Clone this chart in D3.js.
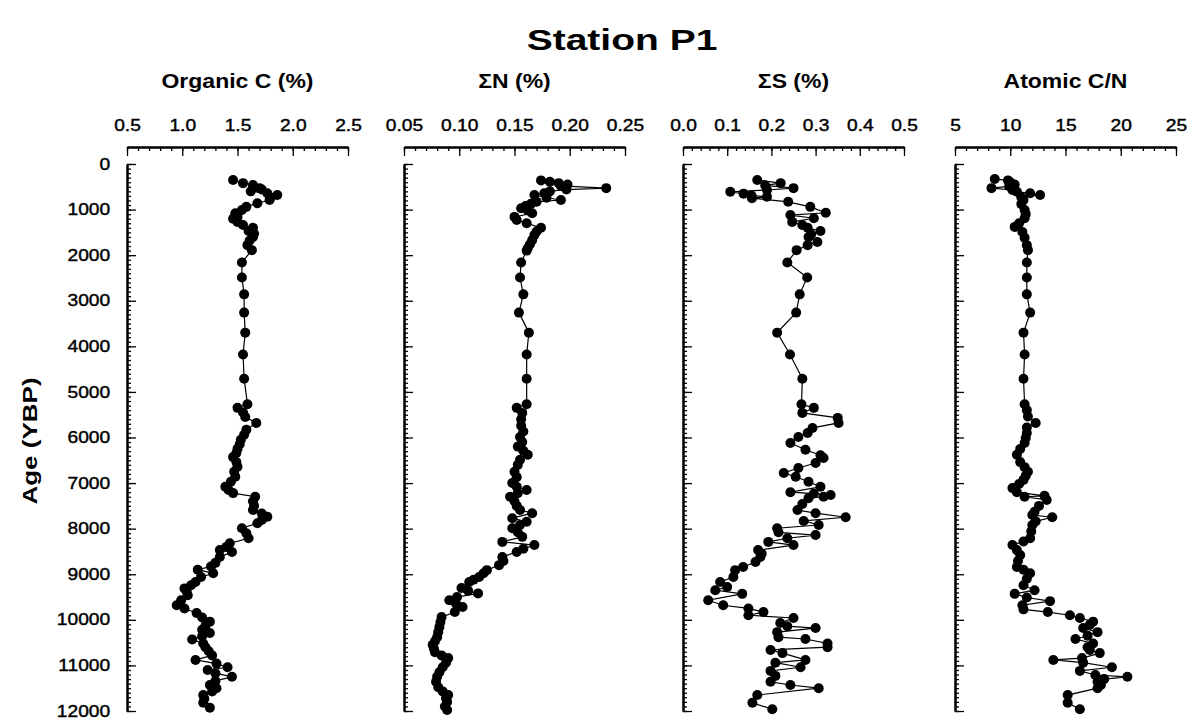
<!DOCTYPE html>
<html>
<head>
<meta charset="utf-8">
<script src="https://cdn.jsdelivr.net/npm/d3@7"></script>
<style>
	body { margin: 0; background: #fff; }
	svg text { font-family: "Liberation Sans", Arial, sans-serif; fill: #000; }
</style>
</head>
<body>
<svg id="chart" width="1190" height="719"></svg>
<script>
//=================== DATA ==================================================
var chartTitle = "Station P1";
var yTitle = "Age (YBP)";
var panelTitles = ["Organic C (%)", "\u03A3N (%)", "\u03A3S (%)", "Atomic C/N"];
var ageTicks = [0, 1000, 2000, 3000, 4000, 5000, 6000, 7000, 8000, 9000, 10000, 11000, 12000];
var orgCTicks = [0.5, 1.0, 1.5, 2.0, 2.5];
var sumNTicks = [0.05, 0.10, 0.15, 0.20, 0.25];
var sumSTicks = [0.0, 0.1, 0.2, 0.3, 0.4, 0.5];
var cnTicks = [5, 10, 15, 20, 25];

// Organic C (%)
var orgCAge = [350, 420, 460, 530, 560, 600, 640, 680, 740, 790, 860, 940, 1010, 1080, 1160, 1200, 1270, 1340, 1400, 1470, 1530, 1600, 1680, 1780, 1890,
	2160, 2490, 2860, 3260, 3700, 4180, 4710, 5270,
	5350, 5450, 5550, 5680, 5830, 5940, 6050, 6150, 6250, 6340, 6430, 6540, 6640, 6750, 6860, 6970, 7080, 7150, 7220, 7300, 7400, 7500, 7590, 7670, 7740, 7810, 7880, 7990,
	8100, 8210, 8320, 8400, 8470, 8510, 8620, 8750, 8830, 8900, 8980, 9060, 9170, 9240, 9310, 9380, 9460, 9570, 9680, 9750, 9850, 9950,
	10040, 10130, 10220, 10290, 10360, 10430, 10520, 10600, 10690, 10780, 10880, 10960, 11040, 11100, 11170, 11250, 11340, 11430, 11500, 11570, 11650, 11730, 11820, 11930];
var orgC = [1.46, 1.55, 1.64, 1.70, 1.72, 1.62, 1.77, 1.86, 1.80, 1.79, 1.68, 1.58, 1.54, 1.48, 1.50, 1.46, 1.50, 1.55, 1.64, 1.60, 1.65, 1.64, 1.61, 1.59, 1.63,
	1.54, 1.54, 1.56, 1.56, 1.57, 1.55, 1.56, 1.59,
	1.50, 1.55, 1.57, 1.67, 1.58, 1.56, 1.53, 1.52, 1.50, 1.49, 1.46, 1.49, 1.50, 1.47, 1.48, 1.44, 1.39, 1.42, 1.46, 1.66, 1.64, 1.65, 1.64, 1.72, 1.77, 1.72, 1.68, 1.54,
	1.58, 1.60, 1.43, 1.40, 1.34, 1.45, 1.34, 1.30, 1.26, 1.14, 1.28, 1.17, 1.12, 1.08, 1.02, 1.04, 1.05, 0.99, 0.95, 1.02, 1.13, 1.18,
	1.25, 1.21, 1.18, 1.25, 1.18, 1.09, 1.19, 1.21, 1.24, 1.27, 1.12, 1.31, 1.41, 1.23, 1.30, 1.45, 1.30, 1.25, 1.31, 1.27, 1.19, 1.20, 1.19, 1.25];

// Total N (%)
var sumNAge = [360, 390, 420, 450, 480, 530, 560, 600, 640, 680, 740, 790, 830, 870, 920, 970, 1020, 1080, 1160, 1230, 1300, 1400, 1480, 1560, 1670, 1760, 1850, 1900,
	2160, 2490, 2860, 3260, 3700, 4180, 4710, 5270,
	5350, 5460, 5600, 5740, 5870, 5990, 6100, 6200, 6290, 6380, 6490, 6600, 6750, 6870, 7000, 7080, 7150, 7220, 7300, 7400, 7500, 7590, 7660, 7770, 7850, 7920, 7990,
	8080, 8180, 8290, 8360, 8440, 8510, 8620, 8710, 8800, 8910, 8980, 9060, 9120, 9170, 9300, 9360, 9420, 9500, 9570, 9640, 9720, 9830, 9940,
	10050, 10160, 10270, 10380, 10470, 10550, 10630, 10710, 10780, 10840, 10940, 11040, 11150, 11250, 11360, 11480, 11570, 11650, 11720, 11800, 11900, 11980];
var sumN = [0.174, 0.182, 0.190, 0.198, 0.192, 0.233, 0.197, 0.182, 0.177, 0.168, 0.179, 0.192, 0.170, 0.165, 0.160, 0.156, 0.162, 0.166, 0.150, 0.152, 0.161, 0.174, 0.170, 0.168, 0.166, 0.164, 0.162, 0.161,
	0.156, 0.155, 0.158, 0.154, 0.163, 0.161, 0.161, 0.161,
	0.152, 0.157, 0.156, 0.156, 0.158, 0.155, 0.157, 0.153, 0.158, 0.162, 0.155, 0.153, 0.150, 0.152, 0.148, 0.152, 0.161, 0.153, 0.146, 0.150, 0.152, 0.155, 0.166, 0.148, 0.161, 0.155, 0.148,
	0.153, 0.157, 0.139, 0.168, 0.158, 0.152, 0.139, 0.140, 0.136, 0.125, 0.122, 0.118, 0.113, 0.109, 0.102, 0.108, 0.117, 0.098, 0.091, 0.097, 0.103, 0.096, 0.084,
	0.083, 0.082, 0.081, 0.080, 0.078, 0.076, 0.077, 0.078, 0.084, 0.090, 0.088, 0.085, 0.082, 0.080, 0.079, 0.081, 0.085, 0.090, 0.088, 0.089, 0.087, 0.089];

// Total S (%)
var sumSAge = [350, 420, 470, 530, 570, 610, 650, 690, 720, 750, 830, 940, 1070, 1120, 1190, 1270, 1340, 1400, 1470, 1540, 1600, 1710, 1780, 1890,
	2160, 2490, 2860, 3260, 3700, 4180, 4710, 5270,
	5350, 5460, 5570, 5680, 5790, 5900, 5990, 6120, 6270, 6390, 6450, 6560, 6670, 6780, 6860, 6970, 7080, 7200, 7230, 7260, 7300, 7330, 7460, 7590, 7660, 7750, 7830, 7920, 7990,
	8080, 8140, 8210, 8290, 8360, 8470, 8550, 8620, 8730, 8840, 8910, 9060, 9170, 9280, 9350, 9430, 9570, 9680, 9750, 9830, 9900, 9960,
	10070, 10140, 10180, 10270, 10380, 10420, 10520, 10600, 10660, 10730, 10880, 10940, 11040, 11120, 11230, 11360, 11430, 11500, 11650, 11820, 11960];
var sumS = [0.168, 0.221, 0.186, 0.250, 0.190, 0.107, 0.137, 0.155, 0.190, 0.156, 0.238, 0.288, 0.323, 0.243, 0.296, 0.247, 0.270, 0.282, 0.311, 0.290, 0.284, 0.304, 0.282, 0.257,
	0.236, 0.281, 0.264, 0.256, 0.213, 0.242, 0.270, 0.268,
	0.296, 0.270, 0.350, 0.352, 0.293, 0.282, 0.261, 0.243, 0.277, 0.311, 0.318, 0.300, 0.261, 0.228, 0.255, 0.284, 0.311, 0.243, 0.296, 0.334, 0.318, 0.284, 0.270, 0.259, 0.300, 0.368, 0.273, 0.307, 0.213,
	0.216, 0.300, 0.236, 0.193, 0.250, 0.170, 0.178, 0.175, 0.164, 0.136, 0.118, 0.114, 0.084, 0.100, 0.073, 0.134, 0.057, 0.091, 0.148, 0.182, 0.148, 0.250,
	0.220, 0.236, 0.300, 0.213, 0.216, 0.277, 0.327, 0.327, 0.198, 0.225, 0.277, 0.209, 0.266, 0.198, 0.209, 0.198, 0.243, 0.307, 0.168, 0.157, 0.202];

// Atomic C/N
var cnAge = [330, 360, 400, 450, 490, 530, 570, 610, 640, 680, 730, 790, 880, 1010, 1100, 1190, 1300, 1380, 1490, 1620, 1780, 1890,
	2160, 2490, 2860, 3260, 3700, 4180, 4710, 5270,
	5400, 5540, 5680, 5780, 5900, 6010, 6120, 6250, 6380, 6540, 6650, 6750, 6840, 6930, 7020, 7110, 7200, 7280, 7300, 7370, 7500, 7630, 7700, 7750, 7840, 7920,
	8060, 8210, 8280, 8360, 8470, 8580, 8710, 8840, 8900, 8980, 9100, 9240, 9350, 9430, 9510, 9590, 9680, 9770, 9830, 9900, 9960,
	10040, 10110, 10180, 10270, 10350, 10420, 10520, 10600, 10660, 10730, 10840, 10880, 10940, 11040, 11120, 11210, 11250, 11300, 11360, 11430, 11500, 11650, 11820, 11960];
var cn = [8.6, 9.8, 10.0, 10.4, 9.9, 8.3, 10.2, 10.6, 11.8, 12.7, 11.0, 11.2, 11.0, 11.3, 11.4, 11.3, 10.8, 10.4, 11.1, 11.3, 11.5, 11.6,
	11.5, 11.5, 11.5, 11.8, 11.2, 11.3, 11.2, 11.3,
	11.5, 11.6, 12.3, 11.5, 11.5, 11.4, 11.3, 10.9, 10.6, 10.9, 11.3, 11.6, 11.4, 11.2, 10.8, 10.2, 10.6, 13.1, 11.3, 13.3, 12.6, 12.2, 12.0, 13.8, 12.3, 12.0,
	11.9, 11.8, 11.2, 10.2, 10.6, 10.9, 10.7, 10.6, 11.2, 11.8, 11.5, 11.2, 12.2, 10.4, 11.5, 13.6, 11.1, 11.2, 13.4, 15.4, 16.3,
	17.5, 17.2, 16.6, 17.9, 17.0, 15.9, 17.5, 17.0, 17.2, 18.1, 16.5, 13.9, 16.6, 19.2, 16.3, 17.7, 20.6, 18.5, 17.9, 18.2, 17.9, 15.2, 15.2, 16.3];

//=================== LAYOUT ====================================
var svg = d3.select("#chart");
var fontScale = 1.2;      // the printed fonts are wider than Arial
var panelLeft = [127, 404, 683, 955];
var panelWidth = 221;
var topAxisY = 147;

var panels = [
	{title: panelTitles[0], ticks: orgCTicks, minor: 0.1, fmt: d3.format(".1f"), age: orgCAge, val: orgC},
	{title: panelTitles[1], ticks: sumNTicks, minor: 0.01, fmt: d3.format(".2f"), age: sumNAge, val: sumN},
	{title: panelTitles[2], ticks: sumSTicks, minor: 0.02, fmt: d3.format(".1f"), age: sumSAge, val: sumS},
	{title: panelTitles[3], ticks: cnTicks, minor: 1, fmt: d3.format("d"), age: cnAge, val: cn}
];

var yScale = d3.scaleLinear().domain([0, 12000]).range([164, 711]);

function minorTicks(lo, hi, step) {
	var n = Math.round((hi - lo) / step);
	return d3.range(n + 1).map(function (i) { return lo + i * step; });
}

// text that is stretched horizontally to match the printed type
function addText(x, y, str, size, weight, sx, rot) {
	svg.append("text")
		.attr("transform", "translate(" + x + "," + y + ")" + (rot ? " rotate(" + rot + ")" : "") + " scale(" + sx + ",1)")
		.attr("text-anchor", "middle")
		.style("font-size", size + "px")
		.style("font-weight", weight)
		.text(str);
}

function styleAxis(g) {
	g.select(".domain").attr("stroke", "#000").attr("stroke-width", 2);
	g.selectAll(".tick line").attr("stroke", "#000").attr("stroke-width", 1.3);
}

// tick labels look a little heavier than plain Arial in the print
function styleTickText(g) {
	g.selectAll(".tick text")
		.attr("transform", "scale(" + fontScale + ",1)")
		.attr("font-family", null)
		.style("font-size", "16px")
		.style("stroke", "#000")
		.style("stroke-width", 0.4);
}

addText(622, 50, chartTitle, 30, "bold", 1.3);
addText(37, 441, yTitle, 20, "bold", 1.3, -90);

panels.forEach(function (p, i) {
	var x0 = panelLeft[i];
	var lo = p.ticks[0], hi = p.ticks[p.ticks.length - 1];
	var xScale = d3.scaleLinear().domain([lo, hi]).range([x0, x0 + panelWidth]);

	addText(x0 + panelWidth / 2, 88, p.title, 20, "bold", 1.15);

	// top axis: minor ticks, then labelled major ticks
	var gTopMinor = svg.append("g").attr("transform", "translate(0," + topAxisY + ")")
		.call(d3.axisTop(xScale).tickValues(minorTicks(lo, hi, p.minor)).tickFormat("").tickSizeInner(-4).tickSizeOuter(0));
	styleAxis(gTopMinor);
	var gTop = svg.append("g").attr("transform", "translate(0," + topAxisY + ")")
		.call(d3.axisTop(xScale).tickValues(p.ticks).tickFormat(p.fmt).tickSizeInner(-9).tickSizeOuter(0).tickPadding(16));
	styleAxis(gTop);
	styleTickText(gTop);

	// left axis: minor (100 yr) ticks, then major ticks
	var gLeftMinor = svg.append("g").attr("transform", "translate(" + x0 + ",0)")
		.call(d3.axisLeft(yScale).tickValues(minorTicks(0, 12000, 100)).tickFormat("").tickSizeInner(-4).tickSizeOuter(0));
	styleAxis(gLeftMinor);
	var gLeft = svg.append("g").attr("transform", "translate(" + x0 + ",0)")
		.call(d3.axisLeft(yScale).tickValues(ageTicks).tickFormat(i === 0 ? d3.format("d") : "").tickSizeInner(-9).tickSizeOuter(0).tickPadding(14));
	styleAxis(gLeft);
	styleTickText(gLeft);

	// profile line and dots
	var pts = p.age.map(function (a, k) { return [xScale(p.val[k]), yScale(a)]; });
	svg.append("path")
		.datum(pts)
		.attr("fill", "none")
		.attr("stroke", "#000")
		.attr("stroke-width", 1.2)
		.attr("d", d3.line());
	svg.append("g").selectAll("circle")
		.data(pts)
		.enter().append("circle")
		.attr("cx", function (d) { return d[0]; })
		.attr("cy", function (d) { return d[1]; })
		.attr("r", 5)
		.attr("fill", "#000");
});
</script>
</body>
</html>
